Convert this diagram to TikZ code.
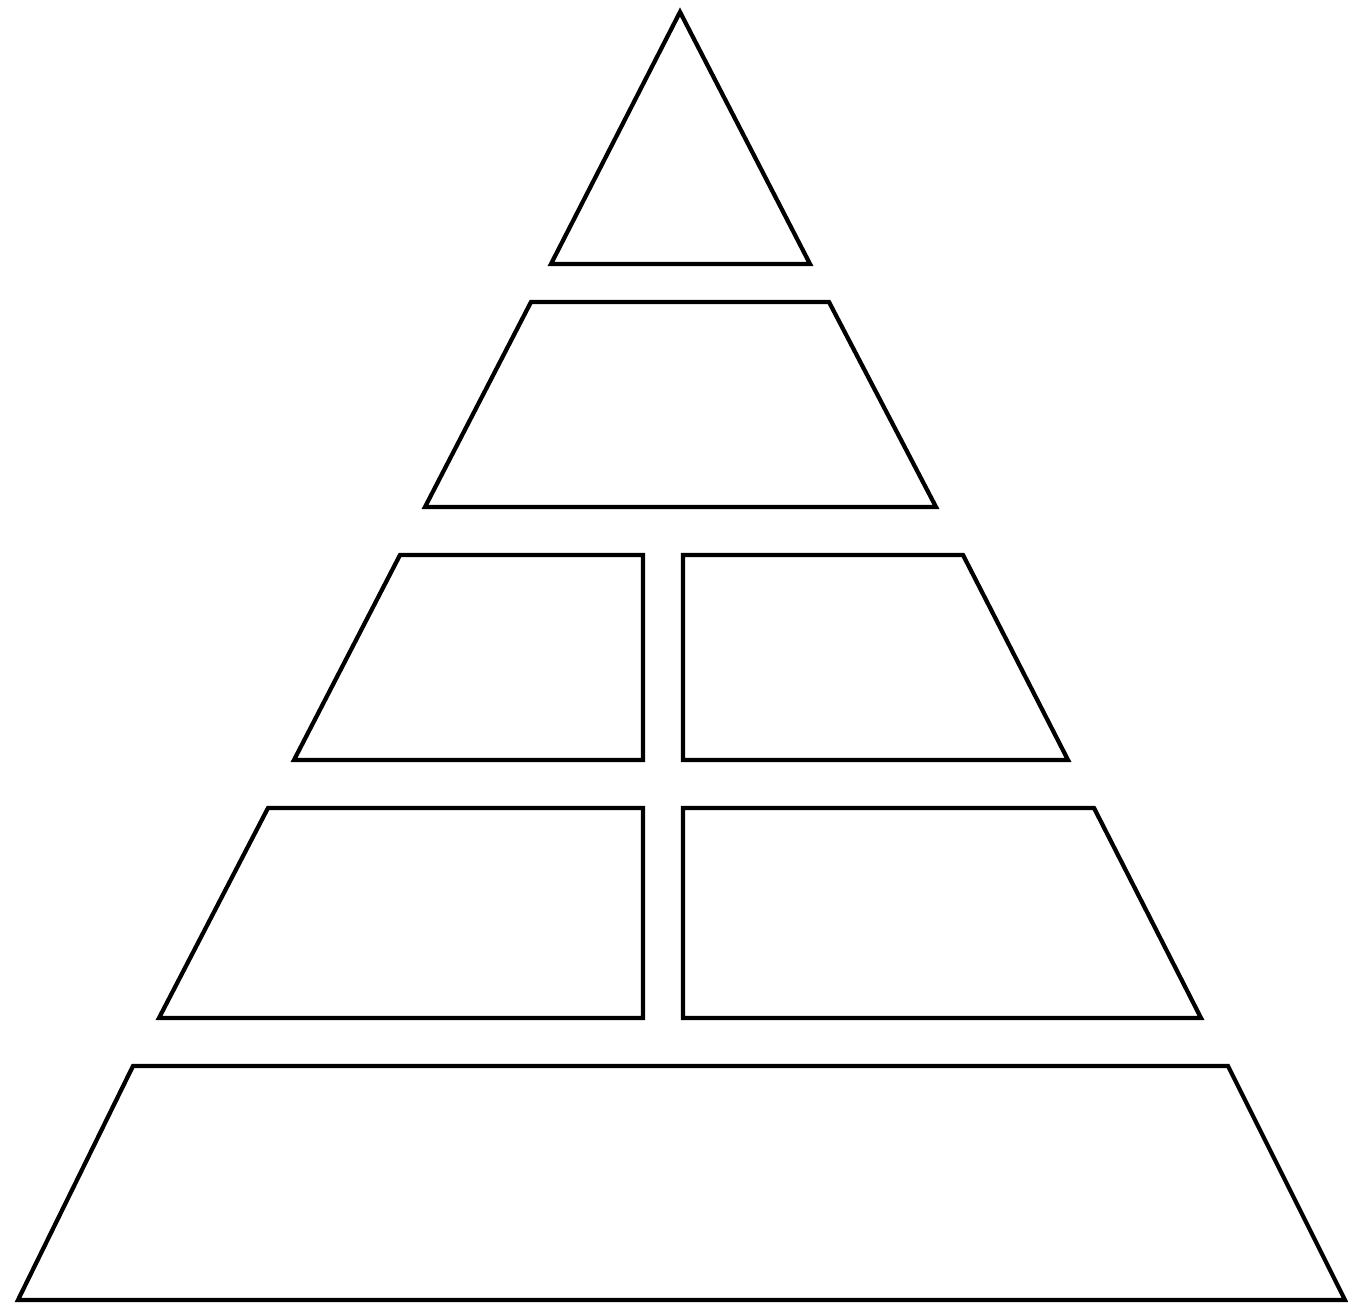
\documentclass[tikz,border=0pt]{standalone}
\usepackage{tikz}

\begin{document}
\begin{tikzpicture}[
    x=0.01cm, y=-0.01cm,
    tier/.style={draw=black, line width=1.2pt, line join=miter, fill=white}
]
\useasboundingbox (0,0) rectangle (1348,1304);

% Apex
\draw[tier] (680,12) -- (810,264) -- (551,264) -- cycle;

% Second tier
\draw[tier] (531,302) -- (829,302) -- (936,507) -- (425,507) -- cycle;

% Third tier, split
\draw[tier] (400,555) -- (643,555) -- (643,760) -- (294,760) -- cycle;
\draw[tier] (683,555) -- (963,555) -- (1068,760) -- (683,760) -- cycle;

% Fourth tier, split
\draw[tier] (268,808) -- (643,808) -- (643,1018) -- (159,1018) -- cycle;
\draw[tier] (683,808) -- (1094,808) -- (1201,1018) -- (683,1018) -- cycle;

% Base
\draw[tier] (133,1066) -- (1228,1066) -- (1345,1300) -- (18,1300) -- cycle;

\end{tikzpicture}
\end{document}
